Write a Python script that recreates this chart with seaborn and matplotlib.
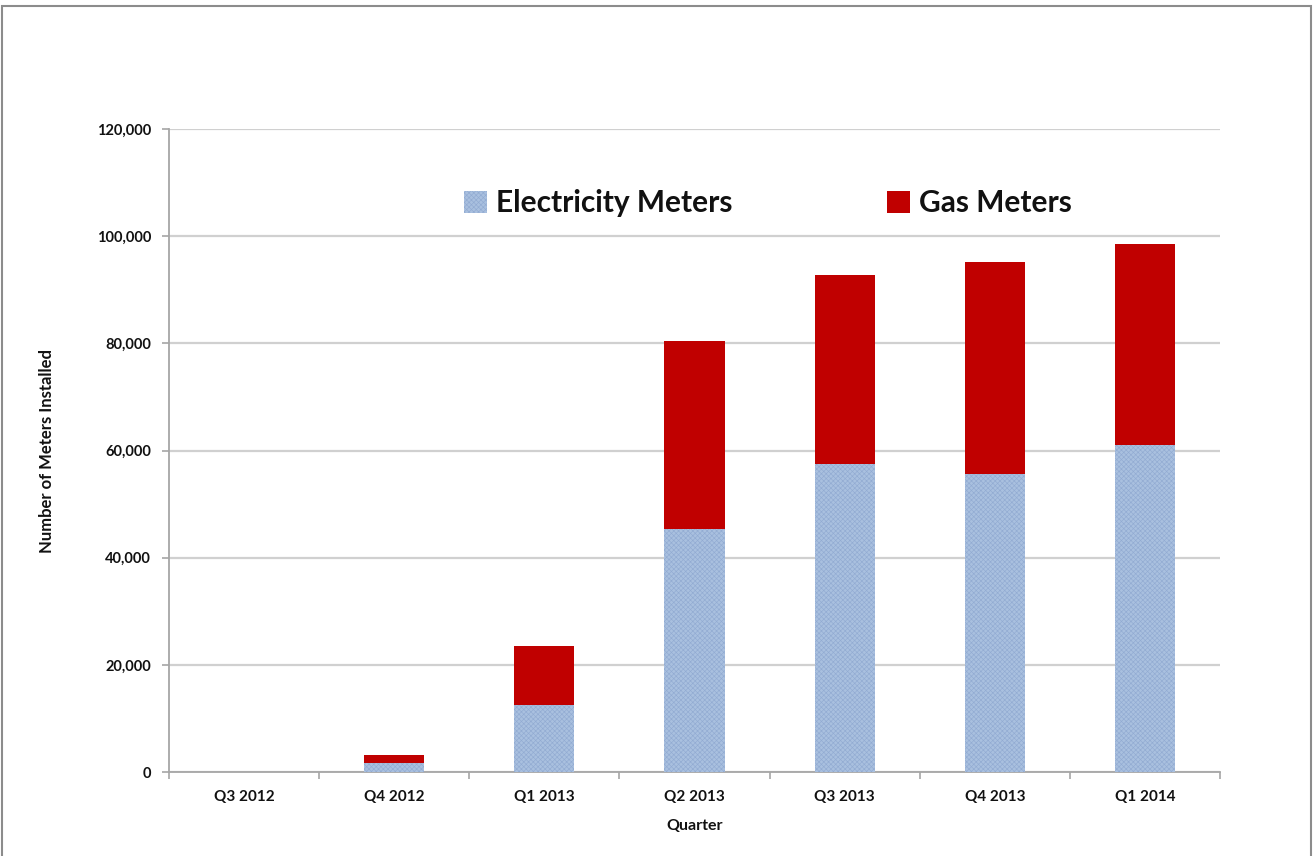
import matplotlib
matplotlib.use("Agg")
import matplotlib.pyplot as plt
from matplotlib.patches import Rectangle
from matplotlib.ticker import FuncFormatter, MultipleLocator
import numpy as np
import pandas as pd
import seaborn as sns

quarters = ["Q3 2012", "Q4 2012", "Q1 2013", "Q2 2013", "Q3 2013", "Q4 2013", "Q1 2014"]
electricity = [0, 1600, 12500, 45400, 57500, 55600, 61000]
gas = [0, 1600, 11000, 35100, 35300, 39600, 37600]

ELEC_COLOR = "#a9c0df"
ELEC_HATCH = "#92abd2"
GAS_COLOR = "#c00000"
TEXT = "#111111"

sns.set_theme(style="white")
plt.rcParams["font.family"] = ["Lato", "DejaVu Sans"]
plt.rcParams["hatch.linewidth"] = 0.45

df = pd.DataFrame({
    "Quarter": quarters,
    "Electricity": electricity,
    "Total": np.array(electricity) + np.array(gas),
})

fig = plt.figure(figsize=(13.14, 8.56), dpi=100)
ax = fig.add_axes([0.1286, 0.0981, 0.7999, 0.7512])

# stacked bars: total height in red, electricity drawn over the lower part
sns.barplot(data=df, x="Quarter", y="Total", color=GAS_COLOR, width=0.4,
            saturation=1, ax=ax, label="Gas Meters", zorder=3, linewidth=0)
sns.barplot(data=df, x="Quarter", y="Electricity", color=ELEC_COLOR, width=0.4,
            saturation=1, ax=ax, label="Electricity Meters", zorder=4,
            hatch="xxxxxxx", edgecolor=ELEC_HATCH, linewidth=0)

ax.set_ylim(0, 120000)
ax.yaxis.set_major_locator(MultipleLocator(20000))
ax.yaxis.set_major_formatter(FuncFormatter(lambda v, p: f"{int(v):,}"))
ax.grid(axis="y", color="#d0d0d0", linewidth=1.6, zorder=0)
ax.set_axisbelow(True)

for side in ["top", "right"]:
    ax.spines[side].set_visible(False)
for side in ["left", "bottom"]:
    ax.spines[side].set_color("#a6a6a6")
    ax.spines[side].set_linewidth(1.3)

ax.set_xlim(-0.5, len(quarters) - 0.5)
ax.tick_params(axis="y", which="major", direction="out", length=5, width=1.2,
               color="#a6a6a6", labelsize=10.5, pad=8, left=True)
ax.tick_params(axis="x", which="major", length=0, labelsize=11, pad=13)
ax.set_xticks(np.arange(-0.5, len(quarters) + 0.5, 1), minor=True)
ax.tick_params(axis="x", which="minor", direction="out", length=5, width=1.2,
               color="#a6a6a6", bottom=True)
for lab in ax.get_xticklabels() + ax.get_yticklabels():
    lab.set_fontweight("bold")
    lab.set_color(TEXT)

ax.set_xlabel("Quarter", fontsize=11.5, fontweight="bold", labelpad=11, color=TEXT)
ax.set_ylabel("Number of Meters Installed", fontsize=12, fontweight="bold",
              labelpad=30, color=TEXT)

handles, labels = ax.get_legend_handles_labels()
order = [labels.index("Electricity Meters"), labels.index("Gas Meters")]
leg = ax.legend([handles[i] for i in order], [labels[i] for i in order],
                loc="center", bbox_to_anchor=(768 / 1314, 1 - 203 / 856),
                bbox_transform=fig.transFigure, ncol=2, frameon=False,
                prop={"size": 21.5, "weight": "bold"}, columnspacing=5.2,
                handlelength=0.75, handleheight=0.75, handletextpad=0.3)
for t in leg.get_texts():
    t.set_color(TEXT)

fig.patches.append(Rectangle((2 / 1314, -0.01), 1309 / 1314, 1 - 6 / 856 + 0.01,
                             transform=fig.transFigure, fill=False,
                             edgecolor="#8c8c8c", linewidth=1.5))

fig.savefig("out.png", dpi=100, facecolor="white")
